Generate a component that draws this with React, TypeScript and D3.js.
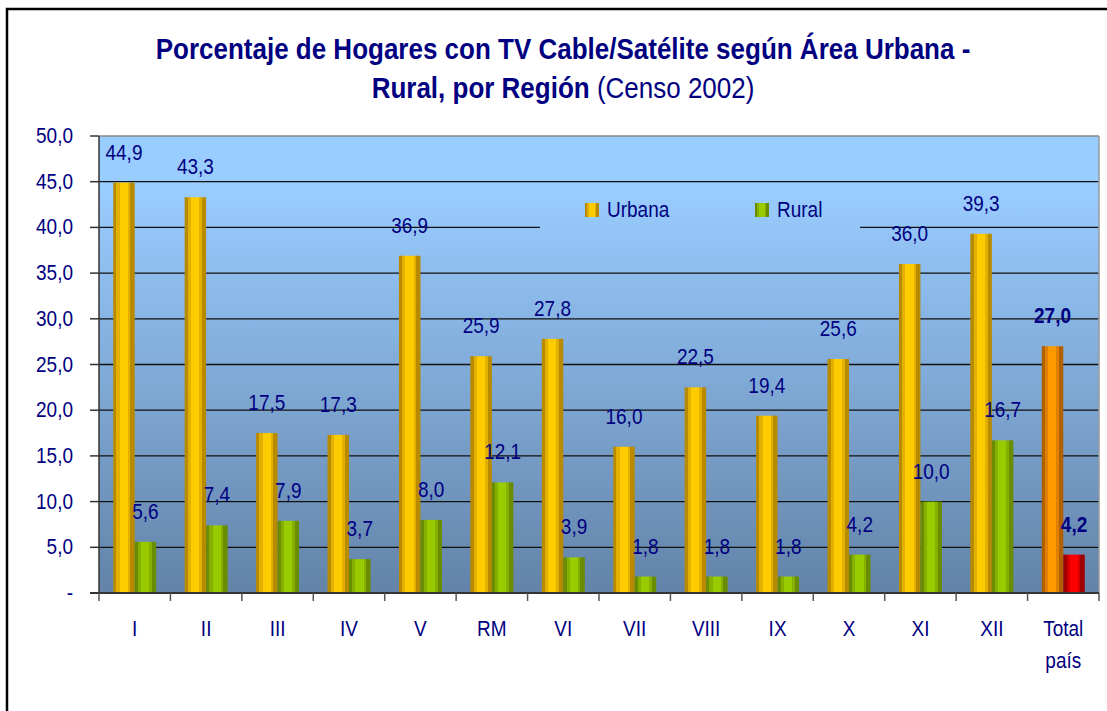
import React from 'react';
import * as d3 from 'd3';

const regions = ['I', 'II', 'III', 'IV', 'V', 'RM', 'VI', 'VII', 'VIII', 'IX', 'X', 'XI', 'XII', 'Total país'];
const urbana = [44.9, 43.3, 17.5, 17.3, 36.9, 25.9, 27.8, 16.0, 22.5, 19.4, 25.6, 36.0, 39.3, 27.0];
const rural = [5.6, 7.4, 7.9, 3.7, 8.0, 12.1, 3.9, 1.8, 1.8, 1.8, 4.2, 10.0, 16.7, 4.2];
const yTicks = [0, 5, 10, 15, 20, 25, 30, 35, 40, 45, 50];
const seriesNames = ['Urbana', 'Rural'];

const navy = '#000080';
const font = '"Liberation Sans", Arial, sans-serif';
const stretch = 1.12; // the source text is a bit taller than plain Arial

// cylinder look: dark / mid / light / mid / dark stripes
const cyl = {
  urb: ['#B88A00', '#E2B000', '#FFCC00'],
  rur: ['#6A8C00', '#86B000', '#99CC00'],
  tot: ['#B06000', '#E08000', '#FF9900'],
  red: ['#A00000', '#D40000', '#FF0000'],
};

const Stripes = ({ id, c }: { id: string; c: string[] }) => {
  const stops: [number, string][] = [
    [0, c[0]], [0.15, c[0]], [0.15, c[1]], [0.3, c[1]], [0.3, c[2]],
    [0.68, c[2]], [0.68, c[1]], [0.8, c[1]], [0.8, c[0]], [1, c[0]],
  ];
  return (
    <linearGradient id={id} x1="0" x2="1" y1="0" y2="0">
      {stops.map(([o, col], i) => <stop key={i} offset={o} stopColor={col} />)}
    </linearGradient>
  );
};

// text drawn at (x,y) with a slight vertical stretch
const T = ({ x, y, children, ...rest }: any) => (
  <text transform={`translate(${x},${y}) scale(1,${stretch})`} fill={navy} {...rest}>{children}</text>
);

const fmt = (v: number) => v.toFixed(1).replace('.', ',');

const App = () => {
  const width = 1107;
  const height = 711;
  const left = 99, right = 1099, top = 136, bottom = 593;

  const x = d3.scaleBand<string>().domain(regions).range([left, right]);
  const y = d3.scaleLinear().domain([0, 50]).range([bottom, top]);
  const bw = x.bandwidth();
  const pair = d3.scaleBand<string>().domain(seriesNames).range([bw / 2 - 21.5, bw / 2 + 21.5]);

  const isTotal = (r: string) => r === 'Total país';

  return (
    <svg width={width} height={height} style={{ position: 'absolute', left: 0, top: 0 }} fontFamily={font}>
      <defs>
        <linearGradient id="bg" gradientUnits="userSpaceOnUse" x1="0" x2="0" y1={top} y2={bottom}>
          <stop offset="0" stopColor="#99CCFF" />
          <stop offset="0.12" stopColor="#99CCFF" />
          <stop offset="1" stopColor="#6383A8" />
        </linearGradient>
        <Stripes id="gUrb" c={cyl.urb} />
        <Stripes id="gRur" c={cyl.rur} />
        <Stripes id="gTot" c={cyl.tot} />
        <Stripes id="gRed" c={cyl.red} />
      </defs>
      <rect x={0} y={0} width={width} height={height} fill="#fff" />
      <rect x={7} y={9} width={1120} height={730} fill="none" stroke="#000" strokeWidth={2.5} />

      <T x={563} y={59} textAnchor="middle" fontSize={26} fontWeight="bold">
        Porcentaje de Hogares con TV Cable/Satélite según Área Urbana -
      </T>
      <T x={563} y={98} textAnchor="middle" fontSize={26}>
        <tspan fontWeight="bold">Rural, por Región</tspan> (Censo 2002)
      </T>

      <rect x={left} y={top} width={right - left} height={bottom - top} fill="url(#bg)" />
      {yTicks.filter(t => t > 0 && t < 50).map(t => (
        <line key={t} x1={left} x2={right} y1={y(t)} y2={y(t)} stroke="#111" strokeWidth={1.3} />
      ))}
      <line x1={left} x2={right} y1={top} y2={top} stroke="#888" strokeWidth={1.5} />
      <line x1={right} x2={right} y1={top} y2={bottom} stroke="#999" strokeWidth={1.5} />

      {/* legend */}
      <rect x={540} y={190} width={320} height={45} fill="url(#bg)" />
      {seriesNames.map((s, i) => (
        <g key={s} transform={`translate(${585 + i * 170},203)`}>
          <rect width={14} height={14} fill={i === 0 ? 'url(#gUrb)' : 'url(#gRur)'} />
          <T x={22} y={14} fontSize={19}>{s}</T>
        </g>
      ))}

      {regions.map((r, i) => {
        const gx = x(r)!;
        const vals = [urbana[i], rural[i]];
        const fills = isTotal(r) ? ['url(#gTot)', 'url(#gRed)'] : ['url(#gUrb)', 'url(#gRur)'];
        return (
          <g key={r}>
            {seriesNames.map((s, j) => {
              const bx = gx + pair(s)!;
              const v = vals[j];
              return (
                <g key={s}>
                  <rect x={bx} y={y(v)} width={pair.bandwidth()} height={bottom - y(v)} fill={fills[j]} />
                  <T x={bx + pair.bandwidth() / 2} y={y(v) - 23} textAnchor="middle" fontSize={19}
                    fontWeight={isTotal(r) ? 'bold' : 'normal'}>{fmt(v)}</T>
                </g>
              );
            })}
          </g>
        );
      })}

      {/* axes */}
      <line x1={left} x2={left} y1={top} y2={bottom} stroke="#333" strokeWidth={1.5} />
      {yTicks.map(t => (
        <g key={t}>
          <line x1={90} x2={left} y1={y(t)} y2={y(t)} stroke="#333" strokeWidth={1.5} />
          <T x={73} y={y(t) + 7} textAnchor="end" fontSize={19}>{t === 0 ? '-' : fmt(t)}</T>
        </g>
      ))}
      <line x1={90} x2={right} y1={bottom} y2={bottom} stroke="#333" strokeWidth={2} />
      {regions.concat(['']).map((r, i) => {
        const tx = left + i * bw;
        return <line key={i} x1={tx} x2={tx} y1={bottom} y2={601} stroke="#555" strokeWidth={1.5} />;
      })}
      {regions.map(r => {
        const cx = x(r)! + bw / 2;
        const lines = isTotal(r) ? ['Total', 'país'] : [r];
        return lines.map((l, k) => (
          <T key={r + k} x={cx} y={636 + k * 32} textAnchor="middle" fontSize={19}>{l}</T>
        ));
      })}
    </svg>
  );
};

export default App;
